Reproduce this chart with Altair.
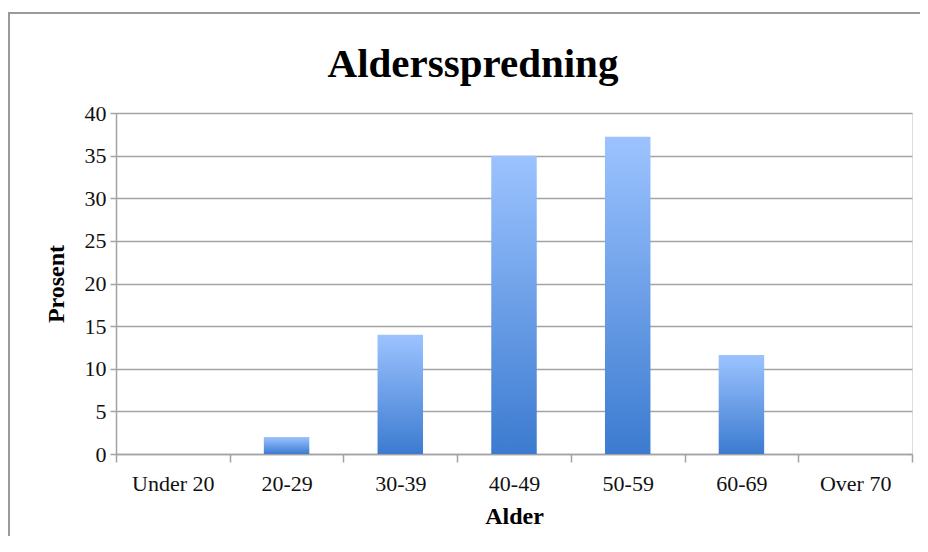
import altair as alt
import pandas as pd

categories = ["Under 20", "20-29", "30-39", "40-49", "50-59", "60-69", "Over 70"]
values = [0, 2.0, 14.0, 35.0, 37.2, 11.6, 0]
y_ticks = [0, 5, 10, 15, 20, 25, 30, 35, 40]
chart_title = ["Aldersspredning"]

df = pd.DataFrame({"Alder": categories, "Prosent": values})
frame_df = pd.DataFrame({"k": [0]})
title_df = pd.DataFrame({"t": chart_title})

FONT = "Liberation Serif"
GRAY = "#a3a3a3"

gradient = alt.Gradient(
    gradient="linear",
    stops=[alt.GradientStop(color="#9cc3ff", offset=0),
           alt.GradientStop(color="#3c7bd0", offset=1)],
    x1=0, x2=0, y1=0, y2=1,
)

bars = alt.Chart(df).mark_bar(color=gradient, width=alt.RelativeBandSize(0.4)).encode(
    x=alt.X("Alder:N", sort=categories,
            scale=alt.Scale(paddingInner=0, paddingOuter=0),
            axis=alt.Axis(title="Alder", tickBand="extent", tickSize=8, tickColor=GRAY,
                          tickWidth=1.5, domainColor=GRAY, domainWidth=1.5, grid=False,
                          labelAngle=0, labelFont=FONT, labelFontSize=22, labelColor="#111",
                          labelPadding=11, titleFont=FONT, titleFontSize=24,
                          titleFontWeight="bold", titleColor="black", titlePadding=10)),
    y=alt.Y("Prosent:Q", scale=alt.Scale(domain=[0, 40], nice=False),
            axis=alt.Axis(title="Prosent", values=y_ticks, tickSize=6, tickColor=GRAY,
                          tickWidth=1.5, domainColor=GRAY, domainWidth=1.5, grid=True,
                          gridColor=GRAY, gridWidth=1.5, labelFont=FONT, labelFontSize=22,
                          labelColor="#111", labelPadding=4, titleFont=FONT,
                          titleFontSize=24, titleFontWeight="bold", titleColor="black",
                          titlePadding=16)),
)

frame = alt.Chart(frame_df).mark_rect(fill=None, stroke="#9a9a9a", strokeWidth=2).encode(
    x=alt.value(-107), x2=alt.value(840), y=alt.value(-100), y2=alt.value(480)
)

title = alt.Chart(title_df).mark_text(
    font=FONT, fontSize=41, fontWeight="bold", color="black",
    align="center", baseline="alphabetic",
).encode(text="t:N", x=alt.value(357), y=alt.value(-36))

chart = alt.layer(frame, bars, title).properties(
    width=796, height=341,
    autosize=alt.AutoSizeParams(type="none"),
    padding={"left": 108, "top": 105, "right": 8, "bottom": 82},
).configure_view(stroke=None).configure(background="white")

chart.save("out.html", embed_options={"renderer": "svg", "actions": False})
